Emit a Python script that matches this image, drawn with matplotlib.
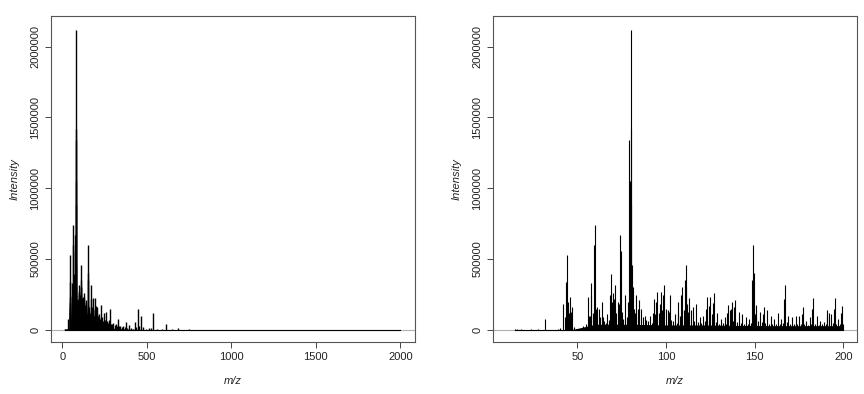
import matplotlib
matplotlib.use("Agg")
from matplotlib import pyplot as plt
from matplotlib.ticker import FuncFormatter
import numpy as np

plt.rcParams['font.family'] = ['Liberation Sans', 'DejaVu Sans']

# main peaks below m/z 200 (m/z, intensity)
mz_major = [15, 16, 18, 24, 28, 32, 39, 40, 42, 43, 44, 45, 46, 47, 53, 55, 56, 57,
            58, 59, 60, 61, 62, 63, 64, 67, 69, 70, 71, 72, 73, 74, 75, 77, 78, 79,
            80, 81, 82, 83, 84, 85, 86, 87, 88, 91, 93, 94, 95, 96, 97, 98, 99, 100,
            101, 102, 105, 107, 108, 109, 110, 111, 112, 113, 114, 115, 117, 119,
            121, 123, 125, 126, 127, 129, 131, 133, 135, 136, 137, 139, 141, 143,
            145, 147, 149, 150, 151, 153, 155, 157, 159, 161, 163, 165, 167, 169,
            171, 173, 175, 177, 179, 181, 183, 185, 187, 189, 191, 192, 193, 195,
            197, 199]
int_major = [3000, 6000, 4000, 5000, 8000, 75000, 6000, 15000, 181000, 90000, 530000,
             140000, 235000, 165000, 25000, 40000, 235000, 100000, 330000, 120000,
             740000, 165000, 150000, 90000, 200000, 115000, 395000, 260000, 320000,
             120000, 200000, 670000, 130000, 245000, 90000, 1340000, 2120000, 460000,
             150000, 245000, 110000, 210000, 150000, 90000, 100000, 100000, 215000,
             110000, 270000, 120000, 265000, 140000, 320000, 150000, 140000, 250000,
             115000, 195000, 100000, 305000, 140000, 460000, 180000, 225000, 140000,
             160000, 185000, 90000, 100000, 235000, 235000, 110000, 260000, 120000,
             80000, 90000, 175000, 140000, 200000, 210000, 130000, 110000, 90000,
             80000, 600000, 110000, 175000, 130000, 160000, 140000, 100000, 80000,
             120000, 80000, 315000, 100000, 90000, 100000, 100000, 160000, 60000,
             90000, 225000, 100000, 60000, 55000, 140000, 120000, 110000, 225000,
             80000, 170000]

# shoulders next to the main peaks
mz_shoulder = [43.5, 44.5, 45.5, 46.5, 56.5, 57.5, 59.5, 60.5, 64.5, 68.5, 69.5, 70.5,
               71.5, 73.5, 74.5, 78.5, 79.5, 80.1, 80.5, 81.5, 82.5, 84.5, 92.5, 94.5,
               96.5, 98.5, 101.5, 106.5, 108.5, 110.5, 111.5, 112.5, 122.5, 124.5,
               126.5, 134.5, 136.5, 138.5, 148.5, 149.5, 150.5, 154.5, 166.5, 176.5,
               182.5, 190.5, 194.5, 198.5]
int_shoulder = [340000, 200000, 120000, 130000, 100000, 250000, 600000, 150000, 90000,
                250000, 200000, 220000, 150000, 180000, 560000, 200000, 1050000,
                1420000, 880000, 300000, 120000, 150000, 120000, 200000, 180000,
                250000, 130000, 120000, 250000, 350000, 300000, 130000, 150000, 170000,
                190000, 120000, 150000, 160000, 350000, 400000, 100000, 110000, 220000,
                110000, 150000, 100000, 150000, 120000]

# smaller peaks in between
mz_minor = [48, 49, 50, 51, 52, 54, 65, 66, 68, 76, 89, 90, 92, 103, 104, 106, 116,
            118, 120, 122, 124, 128, 130, 132, 134, 138, 140, 142, 144, 146, 148,
            152, 154, 156, 158, 160, 162, 164, 166, 168, 170, 172, 174, 176, 178,
            180, 182, 184, 186, 188, 190, 194, 196, 198, 200]
int_minor = [20000, 8000, 5000, 10000, 6000, 15000, 60000, 50000, 70000, 80000,
             70000, 60000, 50000, 70000, 60000, 50000, 60000, 55000, 50000, 60000,
             65000, 55000, 45000, 50000, 45000, 60000, 55000, 50000, 45000, 40000,
             50000, 60000, 55000, 50000, 45000, 40000, 45000, 40000, 50000, 55000,
             40000, 45000, 40000, 45000, 40000, 35000, 45000, 40000, 35000, 40000,
             45000, 50000, 40000, 45000, 40000]

# peaks above m/z 200
mz_high = [203, 207, 211, 215, 219, 222, 227, 231, 236, 241, 246, 251, 256, 261, 266,
           271, 277, 282, 288, 295, 301, 308, 315, 322, 329, 336, 343, 352, 360, 368,
           374, 382, 394, 405, 415, 427, 437, 447, 455, 463, 479, 495, 512, 525, 538,
           560, 590, 613, 650, 686, 750, 820, 900, 1000, 1200, 1400, 1600, 1800, 2000]
int_high = [120000, 160000, 100000, 90000, 110000, 80000, 175000, 70000, 90000, 60000,
            120000, 70000, 130000, 55000, 60000, 50000, 70000, 145000, 45000, 40000,
            50000, 35000, 40000, 30000, 75000, 25000, 30000, 20000, 25000, 20000,
            55000, 15000, 35000, 12000, 10000, 55000, 20000, 145000, 30000, 100000,
            20000, 10000, 15000, 12000, 117000, 8000, 6000, 40000, 5000, 12000, 3000,
            2000, 2000, 1500, 1500, 1000, 1000, 1000, 1000]

# dense low-level signal under the peaks
floor_mz = [40, 48, 55, 60, 80, 100, 120, 140, 160, 180, 200, 250, 300, 400, 500, 700, 2000]
floor_int = [0, 5000, 25000, 40000, 40000, 35000, 35000, 32000, 30000, 30000, 30000,
             20000, 12000, 5000, 3000, 1500, 0]

mz = np.array(mz_major + mz_shoulder + mz_minor + mz_high, dtype=float)
inten = np.array(int_major + int_shoulder + int_minor + int_high, dtype=float)
fmz = np.array(floor_mz, dtype=float)
fint = np.array(floor_int, dtype=float)

fig = plt.figure(figsize=(8.64, 3.94), dpi=100)
axes = [fig.add_axes([0.059, 0.132, 0.421, 0.827]),
        fig.add_axes([0.5706, 0.132, 0.421, 0.827])]
xlims = [(-68, 2085), (2.5, 207.5)]
xticks = [[0, 500, 1000, 1500, 2000], [50, 100, 150, 200]]
maxmz = [2000, 200]
lws = [1.0, 0.8]

for ax, xl, xt, mmax, lw in zip(axes, xlims, xticks, maxmz, lws):
    keep = mz <= mmax
    fkeep = fmz <= mmax
    ax.axhline(0, color='#b0b0b0', lw=0.8, zorder=1)
    ax.fill_between(fmz[fkeep], 0, fint[fkeep], color='black', lw=0, zorder=2)
    ax.vlines(mz[keep], 0, inten[keep], color='black', lw=lw, zorder=3)
    ax.plot([mz.min(), mz[keep].max()], [0, 0], color='black', lw=0.8, zorder=3)
    ax.set_xlim(xl)
    ax.set_ylim(-85200, 2215000)
    ax.set_xticks(xt)
    ax.set_yticks([0, 500000, 1000000, 1500000, 2000000])
    ax.yaxis.set_major_formatter(FuncFormatter(lambda v, p: '%d' % v))
    ax.tick_params(length=4.5, width=0.7, color='#444', labelsize=8, labelcolor='#222', pad=3)
    for lab in ax.get_yticklabels():
        lab.set_rotation(90)
        lab.set_va('center')
    for s in ax.spines.values():
        s.set_color('#555')
        s.set_linewidth(0.8)
    ax.set_xlabel('m/z', fontsize=8, style='italic', color='#222', labelpad=10)
    ax.set_ylabel('Intensity', fontsize=8, style='italic', color='#222', labelpad=8)

fig.savefig('out.png', dpi=100)
